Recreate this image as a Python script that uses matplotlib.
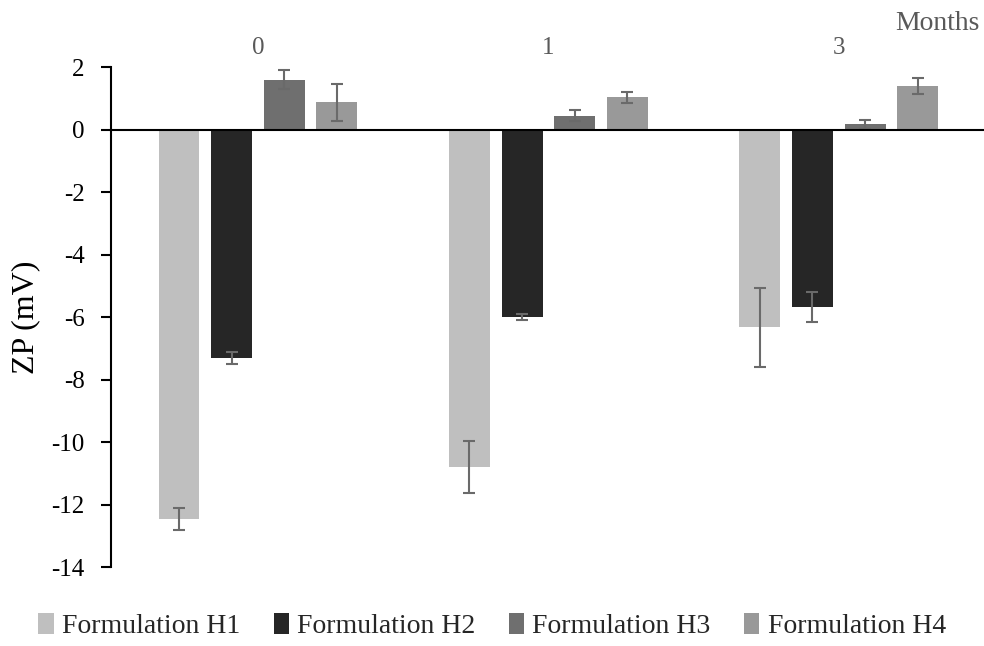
import matplotlib.pyplot as plt
import numpy as np

plt.rcParams['font.family'] = ['Liberation Serif', 'DejaVu Serif']

months = ['0', '1', '3']
series = ['Formulation H1', 'Formulation H2', 'Formulation H3', 'Formulation H4']
h1 = [-12.45, -10.8, -6.33]
h2 = [-7.3, -6.0, -5.68]
h3 = [1.6, 0.45, 0.17]
h4 = [0.87, 1.03, 1.4]
h1_err = [0.35, 0.83, 1.27]
h2_err = [0.2, 0.1, 0.48]
h3_err = [0.3, 0.17, 0.15]
h4_err = [0.6, 0.18, 0.25]

values = [h1, h2, h3, h4]
errors = [h1_err, h2_err, h3_err, h4_err]
colors = ['#bfbfbf', '#262626', '#6f6f6f', '#999999']

fig = plt.figure(figsize=(9.84, 6.46), dpi=100)
ax = fig.add_axes([0.113, 0.122, 0.887, 0.774])

x = np.arange(len(months))
step = 0.181
width = 0.141
for i, (vals, errs) in enumerate(zip(values, errors)):
    ax.bar(x + (i - 1.5) * step, vals, width, color=colors[i], label=series[i],
           yerr=errs, error_kw=dict(ecolor='#6a6a6a', elinewidth=1.5, capsize=4.5, capthick=1.5))

ax.set_xlim(-0.505, 2.5)
ax.set_ylim(-14, 2)
ax.set_yticks(np.arange(-14, 3, 2))
ax.set_yticklabels([str(v) for v in range(-14, 3, 2)])
ax.tick_params(axis='y', labelsize=18, length=7, width=1.5, direction='out', pad=12,
               labelcolor='black')

ax.xaxis.tick_top()
ax.set_xticks(x)
ax.set_xticklabels(months)
ax.tick_params(axis='x', length=0, pad=6, labelsize=18, labelcolor='#595959')

ax.spines['top'].set_visible(False)
ax.spines['right'].set_visible(False)
ax.spines['bottom'].set_position(('data', 0))
ax.spines['bottom'].set_linewidth(1.5)
ax.spines['left'].set_linewidth(1.5)

ax.set_ylabel('ZP (mV)', fontsize=23, labelpad=8)

fig.text(0.996, 0.963, 'Months', ha='right', va='center', fontsize=20, color='#595959')

fig.legend(loc='lower center', bbox_to_anchor=(0.5, -0.028), ncol=4, frameon=False,
           fontsize=20, handlelength=0.55, handleheight=0.8, handletextpad=0.3,
           columnspacing=1.2, labelcolor='#262626')

fig.savefig('out.png', dpi=100, facecolor='white')
